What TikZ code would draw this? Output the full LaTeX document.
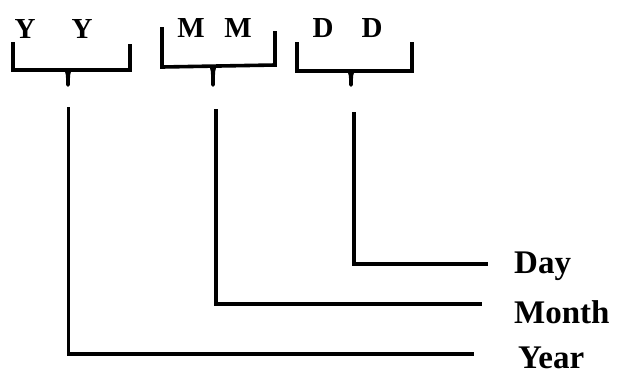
\documentclass[tikz,border=0pt]{standalone}
\usepackage{fontspec}
\setmainfont{Liberation Serif}
\begin{document}
\begin{tikzpicture}[x=1pt,y=-1pt,
  lab/.style={font=\fontsize{33}{33}\selectfont\bfseries, inner sep=0pt, anchor=base west},
  digit/.style={font=\fontsize{29}{29}\selectfont\bfseries, inner sep=0pt, anchor=base},
  brk/.style={line width=3.6pt, line cap=butt, line join=miter},
  conn/.style={line width=3.6pt, line cap=butt, line join=miter}]
\useasboundingbox (0,0) rectangle (617,376);
% tapered tick
\newcommand{\mytick}[3]{%
  \fill (#1-3.5,#2) -- (#1+3.5,#2) .. controls (#1+2,#2+4) .. (#1+1.8,#3) -- (#1-1.8,#3)
    .. controls (#1-2,#2+4) .. (#1-3.5,#2) -- cycle;
  \fill (#1,#3) circle[radius=1.8pt];}
% letters
\node[digit] (y1) at (25,38) {Y};
\node[digit] (y2) at (82,38) {Y};
\node[digit] (m1) at (191,37) {M};
\node[digit] (m2) at (238,37) {M};
\node[digit] (d1) at (323,37) {D};
\node[digit] (d2) at (372,37) {D};
% brackets
\draw[brk] (13,42) -- (13,70) -- (130,70) -- (130,44);
\mytick{68}{70}{85}
\draw[brk] (162,27) -- (162,67) -- (275,65) -- (275,31);
\mytick{213}{66}{85}
\draw[brk] (297,42) -- (297,71) -- (412,71) -- (412,42);
\mytick{351}{71}{85}
% labels
\node[lab] (day) at (514,273) {Day};
\node[lab] (month) at (514,323) {Month};
\node[lab] (year) at (518,368) {Year};
% connectors
\coordinate (ys) at (68.5,107); \coordinate (yc) at (68.5,354); \coordinate (ye) at (474,354);
\coordinate (ms) at (216,109); \coordinate (mc) at (216,304); \coordinate (me) at (482,304);
\coordinate (ds) at (354,112); \coordinate (dc) at (354,264); \coordinate (de) at (488,264);
\draw[conn] (ys) -- (yc) -- (ye);
\draw[conn] (ms) -- (mc) -- (me);
\draw[conn] (ds) -- (dc) -- (de);
\end{tikzpicture}
\end{document}
